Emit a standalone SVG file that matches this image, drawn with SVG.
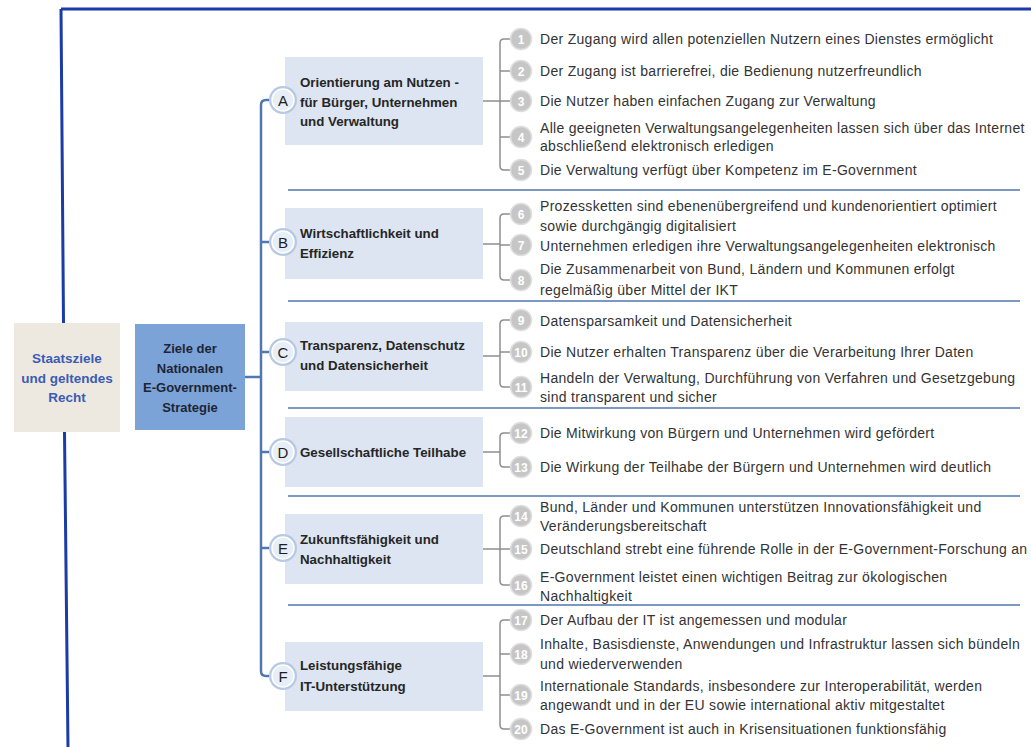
<svg xmlns="http://www.w3.org/2000/svg" width="1031" height="747" viewBox="0 0 1031 747">
<style>
.frame{fill:none;stroke:#1B3BA6;stroke-width:3}
.trunk{fill:none;stroke:#4F78B3;stroke-width:2.5}
.sep{fill:none;stroke:#7C98C2;stroke-width:2}
.brk{fill:none;stroke:#8E8E8E;stroke-width:1.5}
.tbox{fill:#DCE5F1}
.title{font-family:"Liberation Sans",Arial,sans-serif;font-size:13.3px;font-weight:bold;fill:#262626}
.item{font-family:"Liberation Sans",Arial,sans-serif;font-size:14px;letter-spacing:0.3px;fill:#333333}
.lring{fill:#B7C9E2}
.lin{fill:#E8EEF7;stroke:#FFFFFF;stroke-width:1.5}
.ltxt{font-family:"Liberation Sans",Arial,sans-serif;font-size:15px;fill:#1E1E1E;text-anchor:middle}
.ncirc{fill:#C6C6C6;stroke:#DEDEDE;stroke-width:1.5}
.ntxt{font-family:"Liberation Sans",Arial,sans-serif;font-size:12px;font-weight:bold;fill:#FFFFFF;text-anchor:middle}
</style>
<rect x="0" y="0" width="1031" height="747" fill="#FFFFFF"/>
<g id="frame">
<path class="frame" d="M 61 9 H 1031"/>
<path class="frame" d="M 61 9 L 63.5 323 M 64.5 432 L 68 747"/>
</g>
<g id="connectors">
<path class="trunk" d="M 244 377 H 261"/>
<path class="trunk" d="M 269 100 H 266 Q 261 100 261 105 V 671 Q 261 676 266 676 H 269"/>
<path class="trunk" d="M 261 242 H 269 M 261 352 H 269 M 261 452 H 269 M 261 548 H 269"/>
<path class="sep" d="M 288 190 H 1020 M 288 301 H 1020 M 288 408 H 1020 M 288 496 H 1020 M 288 605 H 1020"/>
<path class="brk" d="M 483 101 H 500 M 511 39 H 504 Q 500 39 500 43 V 166 Q 500 170 504 170 H 511 M 500 71 H 511 M 500 101 H 511 M 500 137 H 511"/>
<path class="brk" d="M 483 244 H 500 M 511 214 H 504 Q 500 214 500 218 V 276 Q 500 280 504 280 H 511 M 500 245 H 511"/>
<path class="brk" d="M 483 356 H 500 M 511 320 H 504 Q 500 320 500 324 V 383 Q 500 387 504 387 H 511 M 500 352 H 511"/>
<path class="brk" d="M 483 452 H 500 M 511 433 H 504 Q 500 433 500 437 V 463 Q 500 467 504 467 H 511"/>
<path class="brk" d="M 483 549 H 500 M 511 516 H 504 Q 500 516 500 520 V 581 Q 500 585 504 585 H 511 M 500 549 H 511"/>
<path class="brk" d="M 483 676 H 500 M 511 620 H 504 Q 500 620 500 624 V 725 Q 500 729 504 729 H 511 M 500 654 H 511 M 500 695 H 511"/>
</g>
<g id="staatsziele">
<rect x="14" y="323" width="106" height="109" fill="#EEE9E0"/>
<text font-family="Liberation Sans,Arial,sans-serif" font-size="13.5" font-weight="bold" fill="#3A5CB5" text-anchor="middle"><tspan x="67" y="363">Staatsziele</tspan><tspan x="67" y="383">und geltendes</tspan><tspan x="67" y="402">Recht</tspan></text>
</g>
<g id="ziele">
<rect x="135" y="324" width="110" height="106" fill="#7CA3D8"/>
<text font-family="Liberation Sans,Arial,sans-serif" font-size="13" font-weight="bold" fill="#1C2535" text-anchor="middle"><tspan x="190" y="353">Ziele der</tspan><tspan x="190" y="373">Nationalen</tspan><tspan x="190" y="392">E-Government-</tspan><tspan x="190" y="412">Strategie</tspan></text>
</g>
<g id="goal-A">
<rect class="tbox" x="285" y="57" width="198" height="88"/>
<circle class="lring" cx="283" cy="100" r="14"/><circle class="lin" cx="283" cy="100" r="11"/>
<text class="ltxt" x="283" y="105.5">A</text>
<text class="title"><tspan x="300" y="86.5">Orientierung am Nutzen -</tspan><tspan x="300" y="106.5">für Bürger, Unternehmen</tspan><tspan x="300" y="125.5">und Verwaltung</tspan></text>
</g>
<g id="goal-B">
<rect class="tbox" x="285" y="208" width="198" height="71"/>
<circle class="lring" cx="283" cy="242" r="14"/><circle class="lin" cx="283" cy="242" r="11"/>
<text class="ltxt" x="283" y="247.5">B</text>
<text class="title"><tspan x="300" y="237.5">Wirtschaftlichkeit und</tspan><tspan x="300" y="257.5">Effizienz</tspan></text>
</g>
<g id="goal-C">
<rect class="tbox" x="285" y="322" width="198" height="69"/>
<circle class="lring" cx="283" cy="352" r="14"/><circle class="lin" cx="283" cy="352" r="11"/>
<text class="ltxt" x="283" y="357.5">C</text>
<text class="title"><tspan x="300" y="349.5">Transparenz, Datenschutz</tspan><tspan x="300" y="369.5">und Datensicherheit</tspan></text>
</g>
<g id="goal-D">
<rect class="tbox" x="285" y="417" width="198" height="70"/>
<circle class="lring" cx="283" cy="452" r="14"/><circle class="lin" cx="283" cy="452" r="11"/>
<text class="ltxt" x="283" y="457.5">D</text>
<text class="title"><tspan x="300" y="456.5">Gesellschaftliche Teilhabe</tspan></text>
</g>
<g id="goal-E">
<rect class="tbox" x="285" y="514" width="198" height="70"/>
<circle class="lring" cx="283" cy="548" r="14"/><circle class="lin" cx="283" cy="548" r="11"/>
<text class="ltxt" x="283" y="553.5">E</text>
<text class="title"><tspan x="300" y="543.5">Zukunftsfähigkeit und</tspan><tspan x="300" y="563.5">Nachhaltigkeit</tspan></text>
</g>
<g id="goal-F">
<rect class="tbox" x="285" y="642" width="198" height="69"/>
<circle class="lring" cx="283" cy="676" r="14"/><circle class="lin" cx="283" cy="676" r="11"/>
<text class="ltxt" x="283" y="681.5">F</text>
<text class="title"><tspan x="300" y="669.5">Leistungsfähige</tspan><tspan x="300" y="690.5">IT-Unterstützung</tspan></text>
</g>
<g id="item-1"><circle class="ncirc" cx="521" cy="39" r="10.5"/><text class="ntxt" x="521" y="43.5">1</text><text class="item" x="540" y="44">Der Zugang wird allen potenziellen Nutzern eines Dienstes ermöglicht</text></g>
<g id="item-2"><circle class="ncirc" cx="521" cy="71" r="10.5"/><text class="ntxt" x="521" y="75.5">2</text><text class="item" x="540" y="76">Der Zugang ist barrierefrei, die Bedienung nutzerfreundlich</text></g>
<g id="item-3"><circle class="ncirc" cx="521" cy="101" r="10.5"/><text class="ntxt" x="521" y="105.5">3</text><text class="item" x="540" y="106">Die Nutzer haben einfachen Zugang zur Verwaltung</text></g>
<g id="item-4"><circle class="ncirc" cx="521" cy="137" r="10.5"/><text class="ntxt" x="521" y="141.5">4</text><text class="item"><tspan x="540" y="133">Alle geeigneten Verwaltungsangelegenheiten lassen sich über das Internet</tspan><tspan x="540" y="151">abschließend elektronisch erledigen</tspan></text></g>
<g id="item-5"><circle class="ncirc" cx="521" cy="170" r="10.5"/><text class="ntxt" x="521" y="174.5">5</text><text class="item" x="540" y="175">Die Verwaltung verfügt über Kompetenz im E-Government</text></g>
<g id="item-6"><circle class="ncirc" cx="521" cy="214" r="10.5"/><text class="ntxt" x="521" y="218.5">6</text><text class="item"><tspan x="540" y="211">Prozessketten sind ebenenübergreifend und kundenorientiert optimiert</tspan><tspan x="540" y="231">sowie durchgängig digitalisiert</tspan></text></g>
<g id="item-7"><circle class="ncirc" cx="521" cy="245" r="10.5"/><text class="ntxt" x="521" y="249.5">7</text><text class="item" x="540" y="251">Unternehmen erledigen ihre Verwaltungsangelegenheiten elektronisch</text></g>
<g id="item-8"><circle class="ncirc" cx="521" cy="280" r="10.5"/><text class="ntxt" x="521" y="284.5">8</text><text class="item"><tspan x="540" y="274">Die Zusammenarbeit von Bund, Ländern und Kommunen erfolgt</tspan><tspan x="540" y="295">regelmäßig über Mittel der IKT</tspan></text></g>
<g id="item-9"><circle class="ncirc" cx="521" cy="320" r="10.5"/><text class="ntxt" x="521" y="324.5">9</text><text class="item" x="540" y="326">Datensparsamkeit und Datensicherheit</text></g>
<g id="item-10"><circle class="ncirc" cx="521" cy="352" r="10.5"/><text class="ntxt" x="521" y="356.5">10</text><text class="item" x="540" y="357">Die Nutzer erhalten Transparenz über die Verarbeitung Ihrer Daten</text></g>
<g id="item-11"><circle class="ncirc" cx="521" cy="387" r="10.5"/><text class="ntxt" x="521" y="391.5">11</text><text class="item"><tspan x="540" y="383">Handeln der Verwaltung, Durchführung von Verfahren und Gesetzgebung</tspan><tspan x="540" y="402">sind transparent und sicher</tspan></text></g>
<g id="item-12"><circle class="ncirc" cx="521" cy="433" r="10.5"/><text class="ntxt" x="521" y="437.5">12</text><text class="item" x="540" y="438">Die Mitwirkung von Bürgern und Unternehmen wird gefördert</text></g>
<g id="item-13"><circle class="ncirc" cx="521" cy="467" r="10.5"/><text class="ntxt" x="521" y="471.5">13</text><text class="item" x="540" y="472">Die Wirkung der Teilhabe der Bürgern und Unternehmen wird deutlich</text></g>
<g id="item-14"><circle class="ncirc" cx="521" cy="516" r="10.5"/><text class="ntxt" x="521" y="520.5">14</text><text class="item"><tspan x="540" y="512">Bund, Länder und Kommunen unterstützen Innovationsfähigkeit und</tspan><tspan x="540" y="531">Veränderungsbereitschaft</tspan></text></g>
<g id="item-15"><circle class="ncirc" cx="521" cy="549" r="10.5"/><text class="ntxt" x="521" y="553.5">15</text><text class="item" x="540" y="554">Deutschland strebt eine führende Rolle in der E-Government-Forschung an</text></g>
<g id="item-16"><circle class="ncirc" cx="521" cy="585" r="10.5"/><text class="ntxt" x="521" y="589.5">16</text><text class="item"><tspan x="540" y="582">E-Government leistet einen wichtigen Beitrag zur ökologischen</tspan><tspan x="540" y="601">Nachhaltigkeit</tspan></text></g>
<g id="item-17"><circle class="ncirc" cx="521" cy="620" r="10.5"/><text class="ntxt" x="521" y="624.5">17</text><text class="item" x="540" y="625">Der Aufbau der IT ist  angemessen und modular</text></g>
<g id="item-18"><circle class="ncirc" cx="521" cy="654" r="10.5"/><text class="ntxt" x="521" y="658.5">18</text><text class="item"><tspan x="540" y="649">Inhalte, Basisdienste, Anwendungen und Infrastruktur lassen sich bündeln</tspan><tspan x="540" y="669">und wiederverwenden</tspan></text></g>
<g id="item-19"><circle class="ncirc" cx="521" cy="695" r="10.5"/><text class="ntxt" x="521" y="699.5">19</text><text class="item"><tspan x="540" y="691">Internationale Standards, insbesondere zur Interoperabilität, werden</tspan><tspan x="540" y="710">angewandt und in der EU sowie international aktiv mitgestaltet</tspan></text></g>
<g id="item-20"><circle class="ncirc" cx="521" cy="729" r="10.5"/><text class="ntxt" x="521" y="733.5">20</text><text class="item" x="540" y="734">Das E-Government ist auch in Krisensituationen funktionsfähig</text></g>
</svg>
